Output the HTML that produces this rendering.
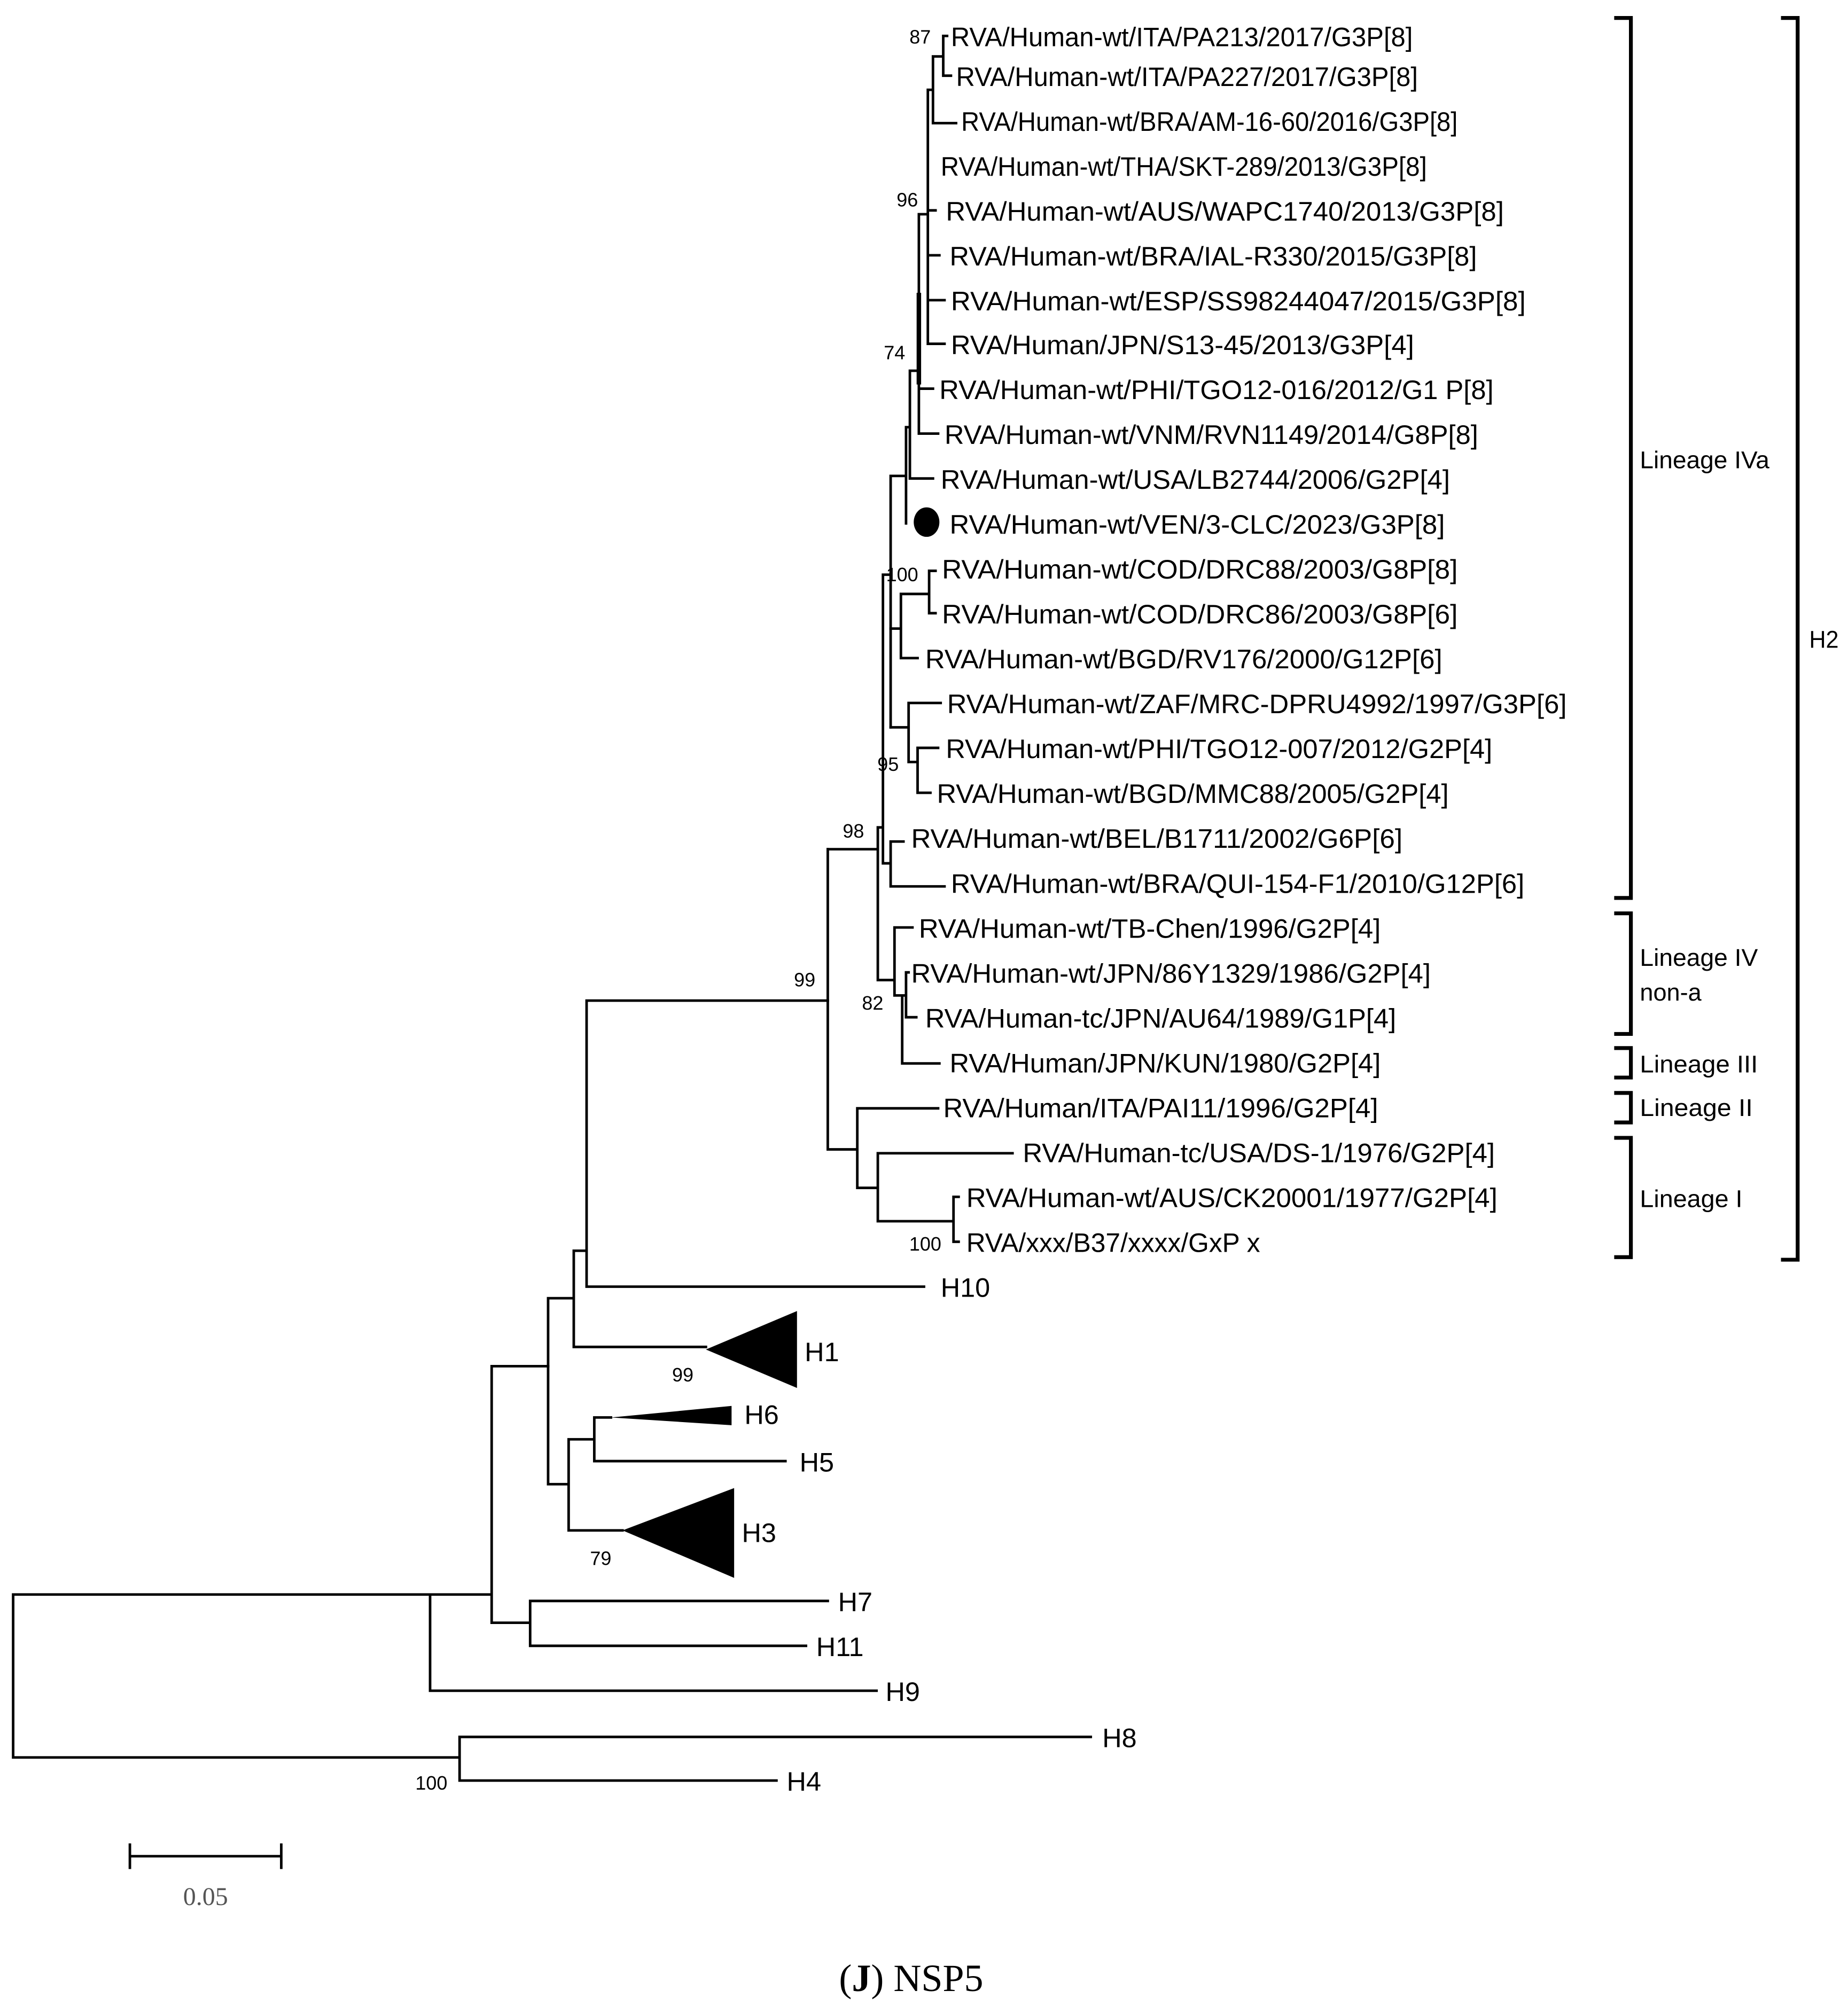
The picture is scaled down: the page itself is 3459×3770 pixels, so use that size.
<!DOCTYPE html>
<html><head><meta charset="utf-8"><style>html,body{margin:0;padding:0;background:#fff}svg{display:block}</style></head><body>
<svg xmlns="http://www.w3.org/2000/svg" width="3459" height="3770" viewBox="0 0 1440 1570">
<rect width="1440" height="1570" fill="#fff"/>
<g stroke="#000" stroke-width="2" fill="none" stroke-linecap="square">
<path d="M735 28V59M735 28H738M735 59H741M727 44H735M727 44V96H745M723 70H727M723 70V268M723 164H729M723 199H732M723 234H736M723 268H736M716 167H723M716 167V338M716 303H727M716 338H731M709 289H716M709 289V373H727M706 333H709M706 333V408M695 371H706M694 371V567"/>
<path d="M716 230V298" stroke-width="3.5"/>
<path d="M694 490H702M702 463V513M702 463H724M724 445V478M724 445H729M724 478H729M702 513H715M694 567H708M708 548V594M708 548H733M708 594H715M715 583V618M715 583H731M715 618H725"/>
<path d="M688 448V673M688 448H694M688 673H694M694 656V691M694 656H704M694 691H736M684 645V764M684 645H688M645 662H684M684 764H697M697 723V776M697 723H711M697 776H703M703 776V829M703 776H706M706 758V793M706 758H708M706 793H714M703 829H732"/>
<path d="M645 662V896M645 896H668M668 864V926M668 864H731M668 926H684M684 899V952M684 899H789M684 952H743M743 933V968M743 933H747M743 968H747"/>
<path d="M457 780H645M457 780V1003H720M447 975H457M447 975V1050H550M427 1012H447M427 1012V1157M427 1157H443M443 1122V1193M443 1122H463M463 1105V1139M463 1105H476M463 1139H612M443 1193H485"/>
<path d="M383 1065H427M383 1065V1265H413M413 1248V1283M413 1248H645M413 1283H628M335 1243H383M335 1243V1318H683M10 1243H335M10 1243V1370H358M358 1354V1388M358 1354H850M358 1388H605"/>
<path d="M101 1447H219M101 1438V1456M219 1438V1456"/>
</g>
<g stroke="#000" stroke-width="3" fill="none">
<path d="M1258 14H1271V700H1258M1258 712H1271V806H1258M1258 817H1271V840H1258M1258 852H1271V875H1258M1258 887H1271V980H1258M1388 14H1401V982H1388"/>
</g>
<g fill="#000">
<polygon points="550,1052 621,1022 621,1082"/>
<polygon points="476,1105 570,1096 570,1111"/>
<polygon points="485,1193 572,1160 572,1230"/>
<ellipse cx="722" cy="407" rx="10" ry="11.5"/>
</g>
<g font-family="'Liberation Sans', sans-serif" font-size="21" fill="#000">
<text x="741" y="36" textLength="360" lengthAdjust="spacingAndGlyphs">RVA/Human-wt/ITA/PA213/2017/G3P[8]</text>
<text x="745" y="67" textLength="360" lengthAdjust="spacingAndGlyphs">RVA/Human-wt/ITA/PA227/2017/G3P[8]</text>
<text x="749" y="102" textLength="387" lengthAdjust="spacingAndGlyphs">RVA/Human-wt/BRA/AM-16-60/2016/G3P[8]</text>
<text x="733" y="137" textLength="379" lengthAdjust="spacingAndGlyphs">RVA/Human-wt/THA/SKT-289/2013/G3P[8]</text>
<text x="737" y="172" textLength="435" lengthAdjust="spacingAndGlyphs">RVA/Human-wt/AUS/WAPC1740/2013/G3P[8]</text>
<text x="740" y="207" textLength="411" lengthAdjust="spacingAndGlyphs">RVA/Human-wt/BRA/IAL-R330/2015/G3P[8]</text>
<text x="741" y="242" textLength="448" lengthAdjust="spacingAndGlyphs">RVA/Human-wt/ESP/SS98244047/2015/G3P[8]</text>
<text x="741" y="276" textLength="361" lengthAdjust="spacingAndGlyphs">RVA/Human/JPN/S13-45/2013/G3P[4]</text>
<text x="732" y="311" textLength="432" lengthAdjust="spacingAndGlyphs">RVA/Human-wt/PHI/TGO12-016/2012/G1 P[8]</text>
<text x="736" y="346" textLength="416" lengthAdjust="spacingAndGlyphs">RVA/Human-wt/VNM/RVN1149/2014/G8P[8]</text>
<text x="733" y="381" textLength="397" lengthAdjust="spacingAndGlyphs">RVA/Human-wt/USA/LB2744/2006/G2P[4]</text>
<text x="740" y="416" textLength="386" lengthAdjust="spacingAndGlyphs">RVA/Human-wt/VEN/3-CLC/2023/G3P[8]</text>
<text x="734" y="451" textLength="402" lengthAdjust="spacingAndGlyphs">RVA/Human-wt/COD/DRC88/2003/G8P[8]</text>
<text x="734" y="486" textLength="402" lengthAdjust="spacingAndGlyphs">RVA/Human-wt/COD/DRC86/2003/G8P[6]</text>
<text x="721" y="521" textLength="403" lengthAdjust="spacingAndGlyphs">RVA/Human-wt/BGD/RV176/2000/G12P[6]</text>
<text x="738" y="556" textLength="483" lengthAdjust="spacingAndGlyphs">RVA/Human-wt/ZAF/MRC-DPRU4992/1997/G3P[6]</text>
<text x="737" y="591" textLength="426" lengthAdjust="spacingAndGlyphs">RVA/Human-wt/PHI/TGO12-007/2012/G2P[4]</text>
<text x="730" y="626" textLength="399" lengthAdjust="spacingAndGlyphs">RVA/Human-wt/BGD/MMC88/2005/G2P[4]</text>
<text x="710" y="661" textLength="383" lengthAdjust="spacingAndGlyphs">RVA/Human-wt/BEL/B1711/2002/G6P[6]</text>
<text x="741" y="696" textLength="447" lengthAdjust="spacingAndGlyphs">RVA/Human-wt/BRA/QUI-154-F1/2010/G12P[6]</text>
<text x="716" y="731" textLength="360" lengthAdjust="spacingAndGlyphs">RVA/Human-wt/TB-Chen/1996/G2P[4]</text>
<text x="710" y="766" textLength="405" lengthAdjust="spacingAndGlyphs">RVA/Human-wt/JPN/86Y1329/1986/G2P[4]</text>
<text x="721" y="801" textLength="367" lengthAdjust="spacingAndGlyphs">RVA/Human-tc/JPN/AU64/1989/G1P[4]</text>
<text x="740" y="836" textLength="336" lengthAdjust="spacingAndGlyphs">RVA/Human/JPN/KUN/1980/G2P[4]</text>
<text x="735" y="871" textLength="339" lengthAdjust="spacingAndGlyphs">RVA/Human/ITA/PAI11/1996/G2P[4]</text>
<text x="797" y="906" textLength="368" lengthAdjust="spacingAndGlyphs">RVA/Human-tc/USA/DS-1/1976/G2P[4]</text>
<text x="753" y="941" textLength="414" lengthAdjust="spacingAndGlyphs">RVA/Human-wt/AUS/CK20001/1977/G2P[4]</text>
<text x="753" y="976" textLength="229" lengthAdjust="spacingAndGlyphs">RVA/xxx/B37/xxxx/GxP x</text>
</g>
<g font-family="'Liberation Sans Narrow','Liberation Sans', sans-serif" font-size="21" fill="#000">
<text x="733" y="1011">H10</text>
<text x="627" y="1061">H1</text>
<text x="580" y="1110">H6</text>
<text x="623" y="1147">H5</text>
<text x="578" y="1202">H3</text>
<text x="653" y="1256">H7</text>
<text x="636" y="1291">H11</text>
<text x="690" y="1326">H9</text>
<text x="859" y="1362">H8</text>
<text x="613" y="1396">H4</text>
</g>
<g font-family="'Liberation Sans Narrow','Liberation Sans', sans-serif" font-size="15" fill="#000" text-anchor="middle">
<text x="717" y="34">87</text>
<text x="707" y="161">96</text>
<text x="697" y="280">74</text>
<text x="703" y="453">100</text>
<text x="692" y="601">95</text>
<text x="665" y="653">98</text>
<text x="627" y="769">99</text>
<text x="680" y="787">82</text>
<text x="721" y="975">100</text>
<text x="532" y="1077">99</text>
<text x="468" y="1220">79</text>
<text x="336" y="1395">100</text>
</g>
<g font-family="'Liberation Sans', sans-serif" font-size="19" fill="#000">
<text x="1278" y="365" textLength="101" lengthAdjust="spacingAndGlyphs">Lineage IVa</text>
<text x="1278" y="753" textLength="92" lengthAdjust="spacingAndGlyphs">Lineage IV</text>
<text x="1278" y="780" textLength="48" lengthAdjust="spacingAndGlyphs">non-a</text>
<text x="1278" y="836" textLength="92" lengthAdjust="spacingAndGlyphs">Lineage III</text>
<text x="1278" y="870" textLength="88" lengthAdjust="spacingAndGlyphs">Lineage II</text>
<text x="1278" y="941" textLength="80" lengthAdjust="spacingAndGlyphs">Lineage I</text>
<text x="1410" y="505" textLength="23" lengthAdjust="spacingAndGlyphs">H2</text>
</g>
<text x="160" y="1485" font-family="'Liberation Serif', serif" font-size="20" fill="#555" text-anchor="middle">0.05</text>
<text x="710" y="1552" font-family="'Liberation Serif', serif" font-size="30" fill="#000" text-anchor="middle">(<tspan font-weight="bold">J</tspan>) NSP5</text>
</svg>
</body></html>
